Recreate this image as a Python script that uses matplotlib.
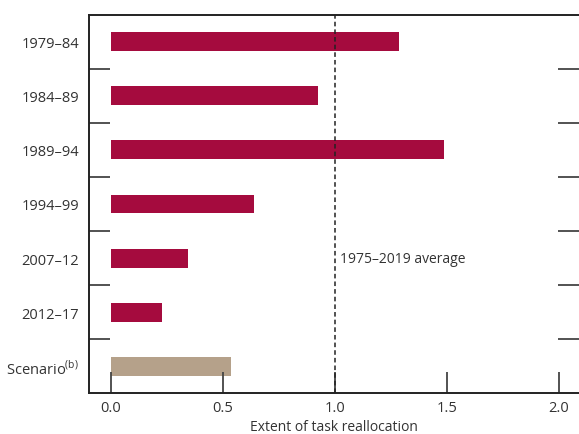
import matplotlib.pyplot as plt
import numpy as np

plt.rcParams['font.family'] = ['Open Sans', 'DejaVu Sans']
plt.rcParams['mathtext.fontset'] = 'custom'
plt.rcParams['mathtext.rm'] = 'Open Sans'

periods = ['1979–84', '1984–89', '1989–94', '1994–99', '2007–12', '2012–17', 'Scenario$^{\\mathrm{(b)}}$']
values = [1.286, 0.924, 1.487, 0.638, 0.344, 0.23, 0.536]
colors = ['#A50B3E'] * 6 + ['#B5A18A']
average = 1.0

fig = plt.figure(figsize=(5.79, 4.35), dpi=100)
ax = fig.add_axes([89/579, 41/435, 490/579, 378/435])

y = np.arange(len(periods))
ax.barh(y, values, height=0.35, color=colors)
ax.axvline(average, color='#222222', lw=1.1, ls=(0, (3, 2)))
ax.text(average + 0.025, 4, '1975–2019 average', va='center', ha='left',
        fontsize=10, color='#333333')

ax.set_ylim(6.49, -0.49)
ax.set_xlim(-0.098, 2.09)

# category labels in middle, ticks at boundaries
ax.set_yticks(y)
ax.set_yticklabels(periods, fontsize=10.5, color='#333333')
ax.tick_params(axis='y', which='major', length=0, pad=7)
ax.set_yticks(np.arange(0.5, 6.5, 1), minor=True)
ax.tick_params(axis='y', which='minor', direction='in', length=15, width=1.3,
               color='#444444', left=True, right=True)

ax.set_xticks([0, 0.5, 1.0, 1.5, 2.0])
ax.set_xticklabels(['0.0', '0.5', '1.0', '1.5', '2.0'])
ax.tick_params(axis='x', direction='in', length=15, width=1.3, color='#444444',
               labelsize=10.5, labelcolor='#333333', pad=5)
ax.set_xlabel('Extent of task reallocation', fontsize=10, color='#333333', labelpad=3)

for side in ['left', 'bottom', 'top']:
    ax.spines[side].set_linewidth(1.4)
    ax.spines[side].set_color('#222222')
ax.spines['right'].set_visible(False)

fig.savefig('out.png', dpi=100)
